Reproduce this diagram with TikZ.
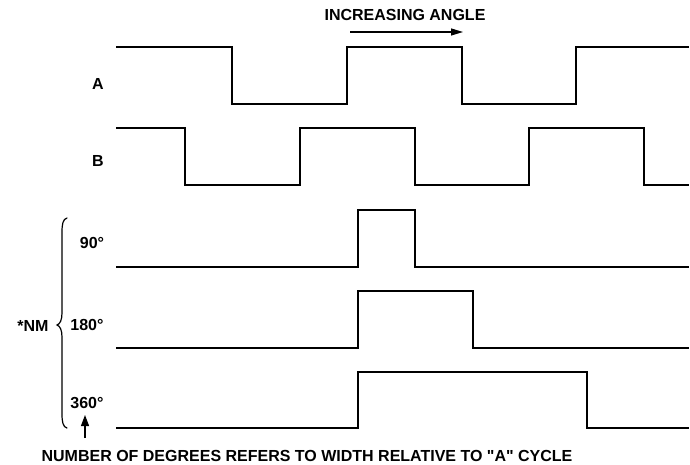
\documentclass[tikz,border=0pt]{standalone}
\usepackage{fontspec}
\setmainfont{Liberation Sans}
\usetikzlibrary{arrows.meta}

\newcommand\dquote{\XeTeXglyph\XeTeXglyphindex "quotedbl"\relax}

\tikzset{
  wave/.style={line width=1.6pt,line join=miter},
  lbl/.style={font=\bfseries\fontsize{16}{18}\selectfont,inner sep=0pt},
}

\begin{document}
\begin{tikzpicture}[x=1pt,y=-1pt]
  \useasboundingbox (0,0) rectangle (690,465);
  % channel A
  \node[lbl] (labA) at (98,84) {A};
  \draw[wave]
    (116,47) -- (232,47) -- (232,104) -- (347,104) -- (347,47)
    -- (462,47) -- (462,104) -- (576,104) -- (576,47) -- (689,47);
  % channel B
  \node[lbl] (labB) at (98,161) {B};
  \draw[wave]
    (116,128) -- (185,128) -- (185,185) -- (300,185) -- (300,128)
    -- (415,128) -- (415,185) -- (529,185) -- (529,128)
    -- (644,128) -- (644,185) -- (689,185);
  % index pulses
  \node[lbl] (lab90) at (92,243) {90°};
  \draw[wave]
    (116,267) -- (358,267) -- (358,210) -- (415,210) -- (415,267) -- (689,267);
  \node[lbl] (lab180) at (87,325) {180°};
  \draw[wave]
    (116,348) -- (358,348) -- (358,291) -- (473,291) -- (473,348) -- (689,348);
  \node[lbl] (lab360) at (87,403) {360°};
  \draw[wave]
    (116,428) -- (358,428) -- (358,372) -- (587,372) -- (587,428) -- (689,428);
  % brace
  \draw[line width=1.2pt,line cap=round]
    (67,218) .. controls (63,219) and (62,224) .. (62,232)
    -- (62,313) .. controls (62,320) and (60,324) .. (57,325)
    .. controls (60,326) and (62,330) .. (62,337)
    -- (62,414) .. controls (62,422) and (63,427) .. (67,428);
  \node[lbl] (labNM) at (33,326) {*NM};
  % direction
  \node[lbl] (labDir) at (405,15) {INCREASING ANGLE};
  \coordinate (dirA) at (350,32);
  \coordinate (dirB) at (463,32);
  \draw[line width=1.2pt,-{Triangle[length=12pt,width=7pt]}] (dirA) -- (dirB);
  % note
  \node[lbl] (labNote) at (307,456) {NUMBER OF DEGREES REFERS TO WIDTH RELATIVE TO \dquote A\dquote{} CYCLE};
  \coordinate (noteA) at (85,438);
  \coordinate (noteB) at (85,415);
  \draw[line width=1.2pt,-{Triangle[length=11pt,width=8pt]}] (noteA) -- (noteB);
\end{tikzpicture}
\end{document}
